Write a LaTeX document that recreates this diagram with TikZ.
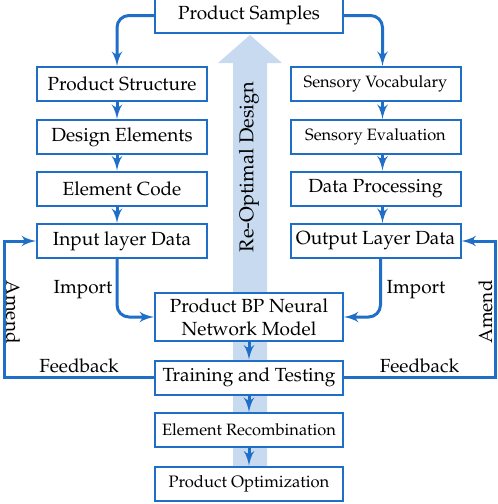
\documentclass[tikz,border=0pt]{standalone}
\usepackage[T1]{fontenc}
\usepackage{mathpazo}
\usepackage{tikz}
\usetikzlibrary{shapes,arrows}
\usetikzlibrary{positioning}
\usetikzlibrary{calc}
\definecolor{flowblue}{RGB}{31,111,200}
\definecolor{paleblue}{RGB}{200,218,240}
\tikzstyle{line} = [draw=flowblue, line width=1.5pt, -latex']

\begin{document}
\begin{tikzpicture}[x=0.5pt, y=-0.5pt,
	every node/.style={font=\fontsize{9.5}{11.5}\selectfont},
	box/.style={draw=flowblue, line width=1pt, rectangle, fill=white,
		align=center, inner sep=1pt, minimum height=17pt},
	sidebox/.style={box, minimum width=85pt},
	midbox/.style={box, minimum width=94pt},
	small/.style={font=\fontsize{8.2}{10}\selectfont},
	lbl/.style={inner sep=1.5pt}]
	\useasboundingbox (0,0) rectangle (498,504);
	%% Re-optimal design arrow
	\fill [paleblue] (233,470) -- (233,63) -- (218,63) -- (250,35)
		-- (282,63) -- (267,63) -- (267,470) -- cycle;
	\node [lbl, rotate=90, font=\fontsize{10}{12}\selectfont] (ReOpt) at (249,167) {Re-Optimal Design};
	%% Boxes
	\node [midbox, minimum height=17.5pt] at (249,15.5) (Samples) {Product Samples};
	\node [sidebox] at (122,84) (Struct) {Product Structure};
	\node [sidebox] at (122,137) (Design) {Design Elements};
	\node [sidebox] at (122,188.5) (Code) {Element Code};
	\node [sidebox] at (122,241) (Input) {Input layer Data};
	\node [sidebox, small] at (375.5,84) (Vocab) {Sensory Vocabulary};
	\node [sidebox, small] at (375.5,137) (Eval) {Sensory Evaluation};
	\node [sidebox] at (375.5,188.5) (Proc) {Data Processing};
	\node [sidebox] at (375.5,241) (Output) {Output Layer Data};
	\node [midbox, minimum height=24pt] at (249,317) (BP) {Product BP Neural\\Network Model};
	\node [midbox] at (249,377.5) (Train) {Training and Testing};
	\node [midbox, small] at (249,430) (Recomb) {Element Recombination};
	\node [midbox, font=\fontsize{8.3}{10}\selectfont] at (249,483.5) (Optim) {Product Optimization};
	%% Flows
	\path [line, rounded corners=6pt] (Samples.west) -| ([xshift=-2.5pt]Struct.north);
	\path [line, rounded corners=6pt] (Samples.east) -| ([xshift=3.5pt]Vocab.north);
	\path [line] ([xshift=-2.5pt]Struct.south) -- ([xshift=-2.5pt]Design.north);
	\path [line] ([xshift=-2.5pt]Design.south) -- ([xshift=-2.5pt]Code.north);
	\path [line] ([xshift=-2.5pt]Code.south) -- ([xshift=-2.5pt]Input.north);
	\path [line] ([xshift=3.5pt]Vocab.south) -- ([xshift=3.5pt]Eval.north);
	\path [line] ([xshift=3.5pt]Eval.south) -- ([xshift=3.5pt]Proc.north);
	\path [line] ([xshift=3.5pt]Proc.south) -- ([xshift=3.5pt]Output.north);
	\path [line, rounded corners=6pt] ([xshift=-2.5pt]Input.south) |- (BP.west);
	\path [line, rounded corners=6pt] ([xshift=2.5pt]Output.south) |- (BP.east);
	\path [line] (BP) -- (Train);
	\path [line] (Train) -- (Recomb);
	\path [line] (Recomb) -- (Optim);
	\node [lbl] (ImportL) at (83,290) {Import};
	\node [lbl] (ImportR) at (416,290) {Import};
	%% Feedback loops
	\coordinate (FbL) at (4,377.5);
	\coordinate (FbR) at (495,377.5);
	\path [line] (Train.west) -- node [lbl, midway, above] (FeedL) {Feedback} (FbL) |- (Input.west);
	\path [line] (Train.east) -- node [lbl, midway, above] (FeedR) {Feedback} (FbR) |- (Output.east);
	\node [lbl, rotate=-90] (AmendL) at (13,312) {Amend};
	\node [lbl, rotate=90] (AmendR) at (485.5,312) {Amend};
\end{tikzpicture}
\end{document}
